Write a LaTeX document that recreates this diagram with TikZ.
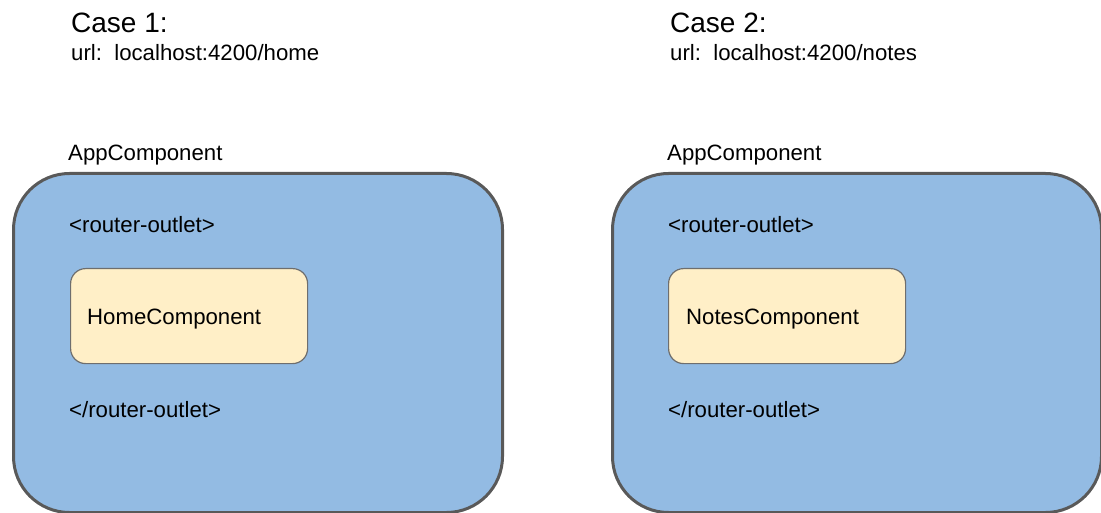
\documentclass[tikz,border=0pt]{standalone}
\usepackage{fontspec}
\setmainfont{Liberation Sans}
\definecolor{appblue}{HTML}{93BBE3}
\definecolor{appedge}{HTML}{595959}
\definecolor{compfill}{HTML}{FFEFC7}
\definecolor{compedge}{HTML}{6E6E6E}
\begin{document}
\begin{tikzpicture}[x=1pt,y=-1pt,
  label/.style={anchor=base west,inner sep=0pt,font=\fontsize{22.2}{26}\selectfont},
  title/.style={anchor=base west,inner sep=0pt,font=\fontsize{28}{32}\selectfont},
  appbox/.style={draw=appedge,fill=appblue,line width=3pt,rounded corners=56pt,
    anchor=north west,inner sep=0pt,minimum width=489pt,minimum height=339pt},
  compbox/.style={draw=compedge,fill=compfill,line width=1.2pt,rounded corners=15pt,
    anchor=north west,inner sep=0pt,minimum width=237pt,minimum height=95pt}]
\useasboundingbox (0,0) rectangle (1101,513);

% Case 1
\node[title] (case1) at (71,33) {Case 1:};
\node[label] (url1) at (71,61) {url:\ \ localhost:4200/home};
\node[label] (appname1) at (68,161) {AppComponent};
\node[appbox] (app1) at (12,172) {};
\node[label] (open1) at (69,233) {<router-outlet>};
\node[compbox] (comp1) at (70,268) {};
\node[label] (compname1) at (87,324) {HomeComponent};
\node[label] (close1) at (69,417) {</router-outlet>};

% Case 2
\node[title] (case2) at (670,33) {Case 2:};
\node[label] (url2) at (670,61) {url:\ \ localhost:4200/notes};
\node[label] (appname2) at (667,161) {AppComponent};
\node[appbox] (app2) at (611,172) {};
\node[label] (open2) at (668,233) {<router-outlet>};
\node[compbox] (comp2) at (668,268) {};
\node[label] (compname2) at (686,324) {NotesComponent};
\node[label] (close2) at (668,417) {</router-outlet>};
\end{tikzpicture}
\end{document}
